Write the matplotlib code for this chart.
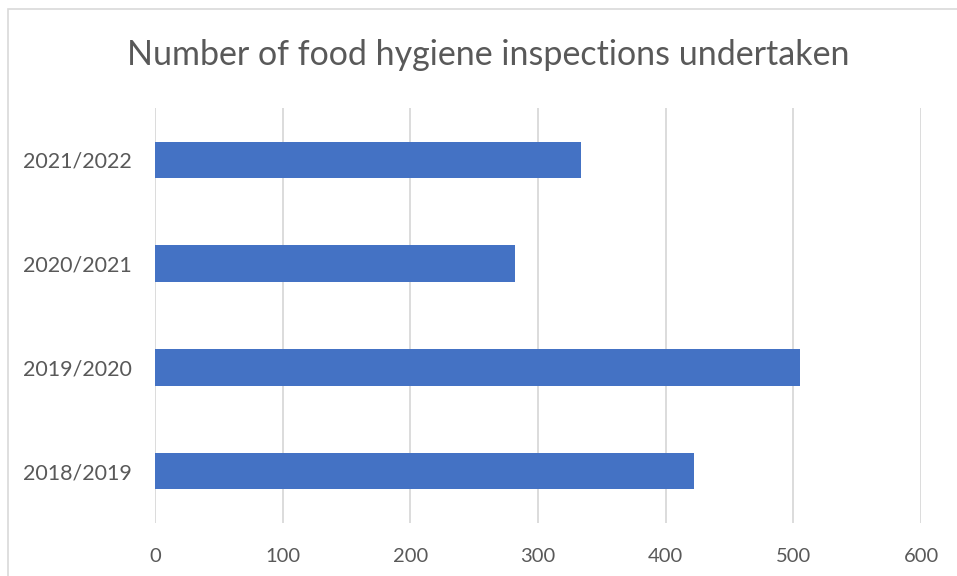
import numpy as np
import matplotlib
matplotlib.use('Agg')
import matplotlib.pyplot as plt
from matplotlib.patches import Rectangle

# DATA
seasons = ['2018/2019', '2019/2020', '2020/2021', '2021/2022']
inspections = [422, 505, 282, 334]
x_ticks = [0, 100, 200, 300, 400, 500, 600]

text_col = '#595959'
grid_col = '#d9d9d9'
bar_col = '#4472c4'

plt.rcParams['font.family'] = ['Lato', 'DejaVu Sans']

fig = plt.figure(figsize=(9.57, 5.76), dpi=100)
ax = fig.add_axes([155/957, 1 - 523/576, (921 - 155)/957, (523 - 108)/576])

# chart border (light grey frame like the office chart)
fig.patches.append(Rectangle((8/957, -0.1), 2, (576 - 9)/576 + 0.1,
                             transform=fig.transFigure, fill=False,
                             edgecolor=grid_col, linewidth=1.2))

y_pos = np.arange(len(seasons))
ax.barh(y_pos, inspections, height=0.35, color=bar_col, zorder=3)

ax.set_xlim(0, 600)
ax.set_ylim(-0.5, len(seasons) - 0.5)
ax.set_xticks(x_ticks)
ax.set_yticks(y_pos)
ax.set_yticklabels(seasons)
ax.xaxis.grid(True, color=grid_col, linewidth=1.3, zorder=0)

for s in ax.spines.values():
    s.set_visible(False)
ax.tick_params(axis='both', length=0, colors=text_col)
ax.tick_params(axis='x', pad=18, labelsize=14.5)
ax.tick_params(axis='y', pad=17, labelsize=15.5)

fig.text(488/957, 1 - 55/576, 'Number of food hygiene inspections undertaken',
         ha='center', va='center', fontsize=24.5, color=text_col)

plt.savefig('out.png', dpi=100)
